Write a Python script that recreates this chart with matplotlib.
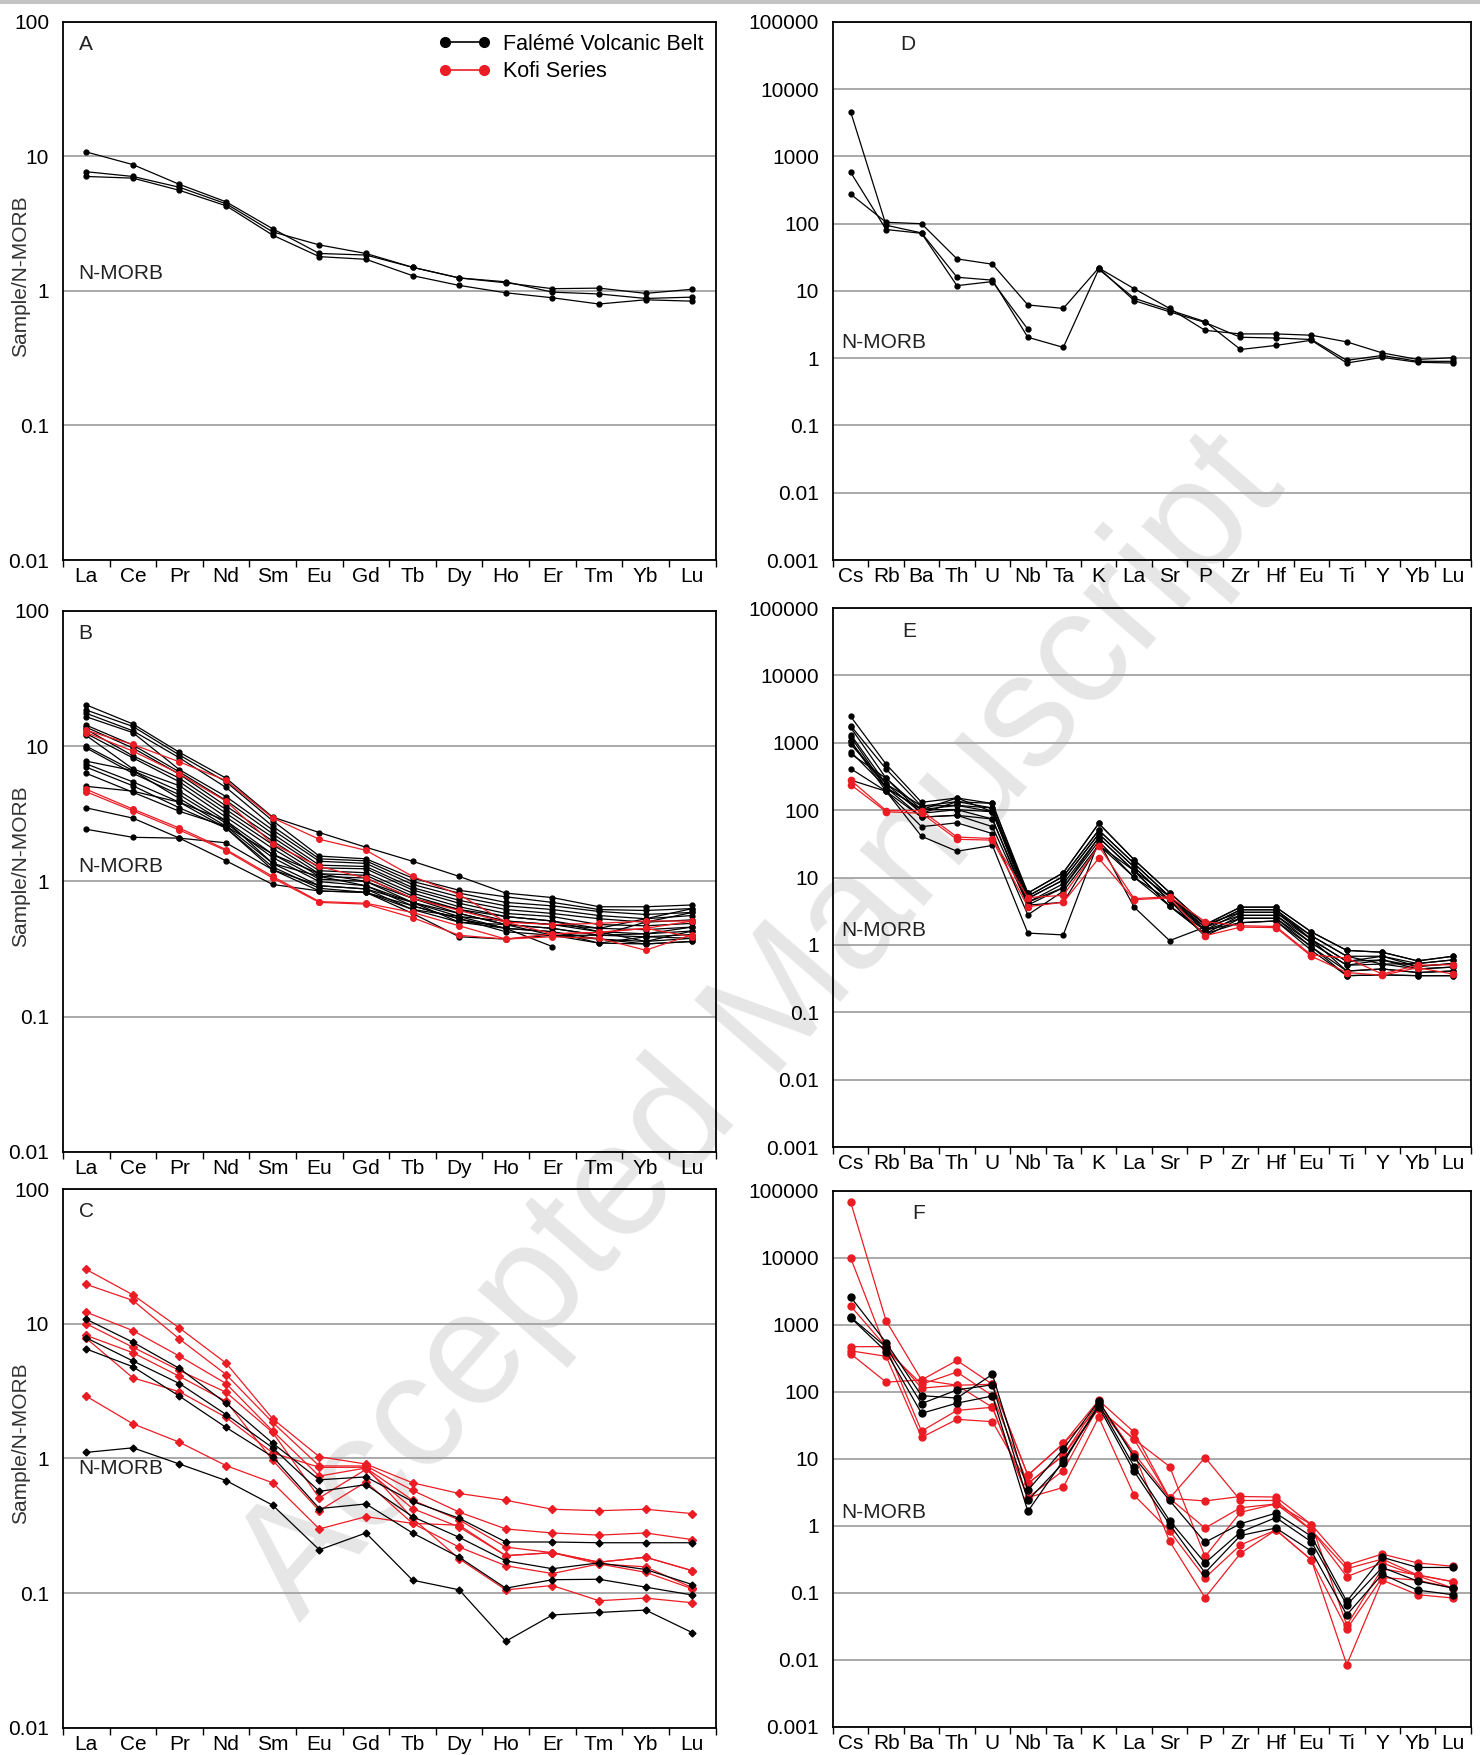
import numpy as np
import matplotlib
matplotlib.use('Agg')
import matplotlib.pyplot as plt
from matplotlib.lines import Line2D
from matplotlib.ticker import NullLocator

plt.rcParams['font.family'] = ['Liberation Sans', 'DejaVu Sans']

nan = np.nan
RED = '#ec1c24'

ree = ['La', 'Ce', 'Pr', 'Nd', 'Sm', 'Eu', 'Gd', 'Tb', 'Dy', 'Ho', 'Er', 'Tm', 'Yb', 'Lu']
spider = ['Cs', 'Rb', 'Ba', 'Th', 'U', 'Nb', 'Ta', 'K', 'La', 'Sr', 'P',
          'Zr', 'Hf', 'Eu', 'Ti', 'Y', 'Yb', 'Lu']

# panel A - REE, Falémé only
a_black = [
    [10.8, 8.7, 6.2, 4.6, 2.9, 1.9, 1.85, 1.5, 1.25, 1.17, 0.98, 0.95, 0.88, 0.9],
    [7.7, 7.1, 5.9, 4.45, 2.75, 2.2, 1.9, 1.5, 1.25, 1.15, 1.04, 1.05, 0.96, 1.03],
    [7.1, 6.9, 5.6, 4.3, 2.6, 1.8, 1.72, 1.3, 1.1, 0.97, 0.89, 0.8, 0.86, 0.84],
]

# panel B - REE
b_black = [
    [20.2, 14.6, 9.0, 5.8, 2.99, 2.3, 1.79, 1.41, 1.09, 0.82, 0.76, 0.65, 0.65, 0.67],
    [18.5, 14.0, 8.6, 5.45, 2.81, 1.54, 1.47, 1.06, 0.86, 0.77, 0.70, 0.62, 0.61, 0.63],
    [17.5, 13.0, 8.2, 4.95, 2.56, 1.47, 1.42, 1.0, 0.82, 0.70, 0.66, 0.60, 0.57, 0.59],
    [16.5, 12.6, 6.7, 4.24, 2.4, 1.41, 1.36, 0.95, 0.77, 0.66, 0.62, 0.56, 0.53, 0.56],
    [14.3, 10.2, 6.45, 3.97, 2.25, 1.32, 1.29, 0.90, 0.725, 0.62, 0.58, 0.53, 0.50, 0.52],
    [13.8, 9.7, 6.2, 3.61, 2.12, 1.26, 1.24, 0.865, 0.69, 0.58, 0.55, 0.48, 0.47, 0.49],
    [13.3, 8.5, 5.8, 3.4, 1.99, 1.2, 1.16, 0.82, 0.65, 0.55, 0.51, 0.45, 0.44, 0.46],
    [12.4, 8.2, 5.45, 3.19, 1.87, 1.14, 1.11, 0.78, 0.62, 0.51, 0.48, 0.425, 0.41, 0.43],
    [12.0, 6.8, 5.1, 2.99, 1.75, 1.09, 1.06, 0.75, 0.58, 0.48, 0.45, 0.40, 0.39, 0.405],
    [10.0, 6.6, 4.65, 2.81, 1.59, 1.04, 1.0, 0.70, 0.55, 0.45, 0.425, 0.375, 0.36, 0.38],
    [9.7, 6.3, 4.37, 2.69, 1.5, 0.997, 0.93, 0.66, 0.53, 0.425, 0.40, 0.35, 0.345, 0.36],
    [7.75, 6.6, 4.1, 2.56, 1.36, 0.93, 0.88, 0.62, 0.50, 0.45, 0.33, nan, nan, nan],
    [7.4, 5.45, 3.85, 2.48, 1.28, 0.89, 0.83, 0.58, 0.39, 0.375, 0.40, 0.40, 0.50, 0.59],
    [7.0, 5.1, 3.5, 2.48, 1.22, 0.85, 0.83, 0.62, 0.55, 0.51, 0.48, 0.45, 0.53, 0.63],
    [6.3, 4.57, 3.3, 2.56, 1.59, 1.14, 1.0, 0.75, 0.62, 0.55, 0.51, 0.425, 0.36, 0.43],
    [5.05, 4.65, 3.85, 2.81, 1.36, 1.09, 0.93, 0.70, 0.58, 0.48, 0.45, 0.40, 0.41, 0.46],
    [3.5, 2.94, 2.09, 1.42, 0.95, 0.85, 0.83, 0.66, 0.53, 0.45, 0.425, 0.35, 0.39, 0.38],
    [2.43, 2.12, 2.09, 1.93, 1.22, 0.93, 0.88, 0.70, 0.50, 0.48, 0.40, 0.375, 0.345, 0.36],
]
b_red = [
    [13.1, 10.3, 7.65, 5.58, 2.95, 2.05, 1.7, 1.09, 0.8, 0.50, 0.48, 0.49, 0.51, 0.51],
    [12.6, 9.2, 6.25, 3.92, 1.89, 1.29, 1.06, 0.75, 0.61, 0.50, 0.41, 0.42, 0.45, 0.51],
    [4.8, 3.43, 2.48, 1.72, 1.09, 0.71, 0.69, 0.59, 0.47, 0.375, 0.39, 0.38, 0.31, 0.405],
    [4.6, 3.33, 2.4, 1.69, 1.06, 0.70, 0.68, 0.54, 0.40, 0.375, 0.41, 0.42, 0.45, 0.39],
]

# panel C - REE
c_black = [
    [10.8, 7.3, 4.66, 2.57, 1.3, 0.695, 0.73, 0.48, 0.36, 0.24, 0.24, 0.237, 0.237, 0.237],
    [7.86, 5.3, 3.6, 2.12, 1.2, 0.57, 0.64, 0.37, 0.26, 0.174, 0.152, 0.168, 0.15, 0.116],
    [6.5, 4.8, 2.9, 1.7, 1.03, 0.425, 0.46, 0.28, 0.185, 0.109, 0.126, 0.127, 0.111, 0.097],
    [1.11, 1.2, 0.91, 0.686, 0.45, 0.21, 0.28, 0.125, 0.106, 0.044, 0.069, 0.072, 0.075, 0.051],
]
c_red = [
    [25.3, 16.4, 9.3, 5.1, 1.97, 1.03, 0.91, 0.66, 0.55, 0.49, 0.42, 0.41, 0.42, 0.39],
    [19.6, 14.9, 7.7, 4.2, 1.85, 0.88, 0.88, 0.58, 0.40, 0.30, 0.28, 0.27, 0.28, 0.25],
    [12.2, 8.9, 5.75, 3.6, 1.6, 0.74, 0.85, 0.49, 0.35, 0.22, 0.2, 0.17, 0.185, 0.147],
    [10.0, 6.7, 4.5, 3.1, 1.56, 0.51, 0.83, 0.425, 0.31, 0.19, 0.2, 0.165, 0.143, 0.108],
    [8.2, 6.1, 4.07, 2.66, 0.97, 0.41, 0.67, 0.33, 0.22, 0.16, 0.14, 0.165, 0.157, 0.11],
    [7.8, 3.97, 3.13, 2.02, 1.1, 0.86, 0.86, 0.36, 0.18, 0.106, 0.114, 0.088, 0.092, 0.085],
    [2.9, 1.81, 1.32, 0.885, 0.66, 0.30, 0.37, 0.33, 0.32, 0.19, 0.2, 0.17, 0.185, 0.147],
]

# panel D - multi-element, Falémé only
d_black = [
    [4600, 95, 73, 16, 14.5, 2.05, 1.45, 21, 7.8, 5.2, 3.5, 1.35, 1.55, 1.85, 0.85, 1.03, 0.87, 0.85],
    [580, 82, 72, 12, 13.8, 2.7, nan, 22, 7.2, 4.9, 3.4, 2.05, 2.0, 1.9, 0.93, 1.1, 0.9, 0.9],
    [275, 105, 100, 30, 25, 6.2, 5.5, 22, 10.8, 5.5, 2.6, 2.3, 2.3, 2.2, 1.75, 1.2, 0.96, 1.02],
]

# panel E - multi-element
e_black = [
    [2465, 482, 131, 152, 126, 5.9, 11.8, 63.6, 18.4, 6.0, 2.0, 3.64, 3.64, 1.56, 0.83, 0.78, 0.58, 0.68],
    [1800, 408, 115, 134, 108, 5.3, 10.4, 50.6, 16.2, 5.2, 1.84, 3.33, 3.33, 1.37, 0.68, 0.68, 0.53, 0.60],
    [1690, 298, 102, 118, 95, 4.9, 9.2, 44.6, 14.3, 4.57, 1.66, 3.05, 3.05, 1.21, 0.57, 0.60, 0.48, 0.53],
    [1330, 246, 90, 102, 74, 4.3, 8.1, 39.3, 12.6, 3.78, 1.46, 2.75, 2.75, 1.07, 0.50, 0.52, 0.44, 0.47],
    [1230, 217, 79, 84, 57, 3.9, 7.1, 34.6, 10.1, 4.57, 1.34, 2.49, 2.49, 0.94, 0.41, 0.44, 0.39, 0.41],
    [1055, 191, 57, 65, 45, 2.8, 6.3, 30.5, 12.6, 5.2, 1.66, 2.14, 2.27, 0.83, 0.35, 0.36, 0.35, 0.35],
    [955, 246, 115, 118, 108, 4.9, 9.2, 44.6, 14.3, 4.57, 1.84, 2.75, 2.75, 1.21, 0.57, 0.68, 0.48, 0.53],
    [741, 217, 102, 102, 95, 4.3, 7.1, 39.3, 12.6, 3.78, 1.66, 2.49, 2.49, 1.07, 0.50, 0.60, 0.44, 0.47],
    [687, 298, 90, 134, 126, 5.3, 10.4, 50.6, 16.2, 5.2, 2.0, 3.05, 3.05, 1.37, 0.68, 0.52, 0.53, 0.60],
    [414, 191, 41, 24.6, 30, 1.5, 1.41, 34.6, 3.64, 1.16, 1.84, 3.33, 3.33, 1.21, 0.41, 0.44, 0.39, 0.41],
    [280, 191, 79, 84, 74, 3.9, 4.3, 30.5, 10.1, 3.78, 1.46, 2.14, 2.27, 0.94, 0.35, 0.36, 0.35, 0.35],
    [1055, 217, 102, 152, 95, 5.9, 11.8, 63.6, 18.4, 6.0, 2.0, 3.64, 3.64, 1.56, 0.83, 0.78, 0.58, 0.68],
]
e_red = [
    [280, 99, 99, 40, 38, 5.05, 5.45, 29.4, 4.87, 5.2, 2.22, 1.93, 1.88, 0.71, 0.64, 0.37, 0.50, 0.51],
    [240, 95, 90, 37, 36, 3.7, 4.3, 19.3, 4.7, 5.0, 1.37, 1.84, 1.81, 0.68, 0.39, 0.355, 0.46, 0.37],
]

# panel F - multi-element
f_black = [
    [2610, 545, 88, 81, 183, 3.4, 14, 73, 10.6, 2.4, 0.57, 1.08, 1.55, 0.7, 0.075, 0.34, 0.24, 0.24],
    [1305, 468, 67, 107, 128, 2.4, 8.7, 66, 7.7, 1.2, 0.28, 0.81, 1.33, 0.58, 0.066, 0.24, 0.15, 0.118],
    [1280, 400, 48, 68, 87, 1.65, 9.5, 60, 6.5, 1.05, 0.2, 0.72, 0.93, 0.42, 0.047, 0.19, 0.11, 0.094],
]
f_red = [
    [68000, 1150, 151, 295, 130, 5.7, 17, 75, 25, 2.58, 2.36, 2.75, 2.7, 1.05, 0.26, 0.38, 0.28, 0.25],
    [10000, 430, 130, 198, 88, 4.3, 11.3, 56, 19.6, 7.7, 0.35, 1.6, 2.13, 0.87, 0.23, 0.32, 0.185, 0.147],
    [1920, 470, 114, 126, 59, 2.65, 6.7, 62, 12, 2.58, 10.5, 2.4, 2.4, 0.87, 0.175, 0.28, 0.18, 0.118],
    [474, 474, 26, 53, 59, 2.65, 3.75, 42, 2.87, 0.84, 0.168, 0.52, 0.87, 0.31, 0.029, 0.17, 0.155, 0.118],
    [411, 340, 21, 39, 36, 4.3, 11.3, 70, 12, 0.59, 0.085, 0.39, 0.87, 0.31, 0.0085, 0.155, 0.094, 0.084],
    [371, 140, 151, 126, 130, 5.7, 17, 56, 19.6, 2.58, 0.93, 1.87, 2.13, 1.05, 0.033, 0.23, 0.185, 0.147],
]


def fmt(v):
    return ('%.3f' % v).rstrip('0').rstrip('.')


def setup(ax, labels, ymin, ymax, letter, letter_x, nmorb_x, nmorb_y, ylabel=False):
    n = len(labels)
    ax.set_facecolor('none')
    ax.set_yscale('log')
    ax.set_ylim(ymin, ymax)
    ax.set_xlim(0.5, n + 0.5)
    ax.set_xticks(np.arange(1, n + 1))
    ax.set_xticklabels(labels)
    ax.set_xticks(np.arange(0.5, n + 1), minor=True)
    ax.tick_params(axis='x', which='major', length=0, pad=5, labelsize=15)
    ax.tick_params(axis='x', which='minor', length=5, width=1, direction='out')
    dec = 10.0 ** np.arange(np.log10(ymin), np.log10(ymax) + 0.5)
    ax.set_yticks(dec)
    ax.set_yticklabels([fmt(v) for v in dec])
    ax.yaxis.set_minor_locator(NullLocator())
    ax.tick_params(axis='y', length=0, pad=10, labelsize=15)
    ax.grid(axis='y', color='#a3a3a3', lw=1.3)
    ax.set_axisbelow(True)
    for s in ax.spines.values():
        s.set_linewidth(1.3)
    ax.text(letter_x, 0.975, letter, transform=ax.transAxes, fontsize=15,
            va='top', ha='left', color='#222222')
    ax.text(nmorb_x, nmorb_y, 'N-MORB', transform=ax.get_yaxis_transform(),
            fontsize=15, va='center', ha='left', color='#222222')
    if ylabel:
        ax.set_ylabel('Sample/N-MORB', fontsize=15, color='#333333')
        ax.yaxis.set_label_coords(-0.05, 0.528)


def draw(ax, rows, color, marker='o', ms=3.5):
    for r in rows:
        x = np.arange(1, len(r) + 1)
        ax.plot(x, r, color=color, lw=0.9, marker=marker, ms=ms, mfc=color, mec=color)


fig = plt.figure(figsize=(14.8, 17.55), dpi=100)

# watermark behind the panels
fig.text(0.515, 0.414, 'Accepted Manuscript', fontsize=116, color='#e6e6e6',
         rotation=49, ha='center', va='center', zorder=-5)
fig.add_artist(plt.Rectangle((0, 1 - 4 / 1755), 1, 4 / 1755, transform=fig.transFigure,
                             color='#c4c4c4', lw=0))

axA = fig.add_axes([0.0425, 0.6809, 0.441, 0.3066])
axD = fig.add_axes([0.5628, 0.6809, 0.431, 0.3066])
axB = fig.add_axes([0.0425, 0.3436, 0.441, 0.3083])
axE = fig.add_axes([0.5628, 0.3464, 0.431, 0.3071])
axC = fig.add_axes([0.0425, 0.0154, 0.441, 0.3071])
axF = fig.add_axes([0.5628, 0.0160, 0.431, 0.3054])

setup(axA, ree, 0.01, 100, 'A', 0.024, 0.024, 1.36, ylabel=True)
draw(axA, a_black, 'black')
handles = [Line2D([], [], color='black', lw=1.2, marker='o', ms=7),
           Line2D([], [], color=RED, lw=1.2, marker='o', ms=7)]
axA.legend(handles, ['Falémé Volcanic Belt', 'Kofi Series'], loc='upper right',
           numpoints=2, frameon=False, fontsize=15.5, handlelength=2.4,
           handletextpad=0.6, labelspacing=0.3, borderaxespad=0.15)

setup(axB, ree, 0.01, 100, 'B', 0.024, 0.024, 1.29, ylabel=True)
draw(axB, b_black, 'black')
draw(axB, b_red, RED, ms=4)

setup(axC, ree, 0.01, 100, 'C', 0.024, 0.024, 0.84, ylabel=True)
draw(axC, c_red, RED, marker='D', ms=4)
draw(axC, c_black, 'black', marker='D', ms=3.5)

setup(axD, spider, 0.001, 100000, 'D', 0.105, 0.013, 1.72)
draw(axD, d_black, 'black')

setup(axE, spider, 0.001, 100000, 'E', 0.108, 0.013, 1.66)
draw(axE, e_black, 'black')
draw(axE, e_red, RED, ms=4.5)

setup(axF, spider, 0.001, 100000, 'F', 0.124, 0.013, 1.59)
draw(axF, f_red, RED, ms=5)
draw(axF, f_black, 'black', ms=5)

fig.savefig('out.png', dpi=100)
